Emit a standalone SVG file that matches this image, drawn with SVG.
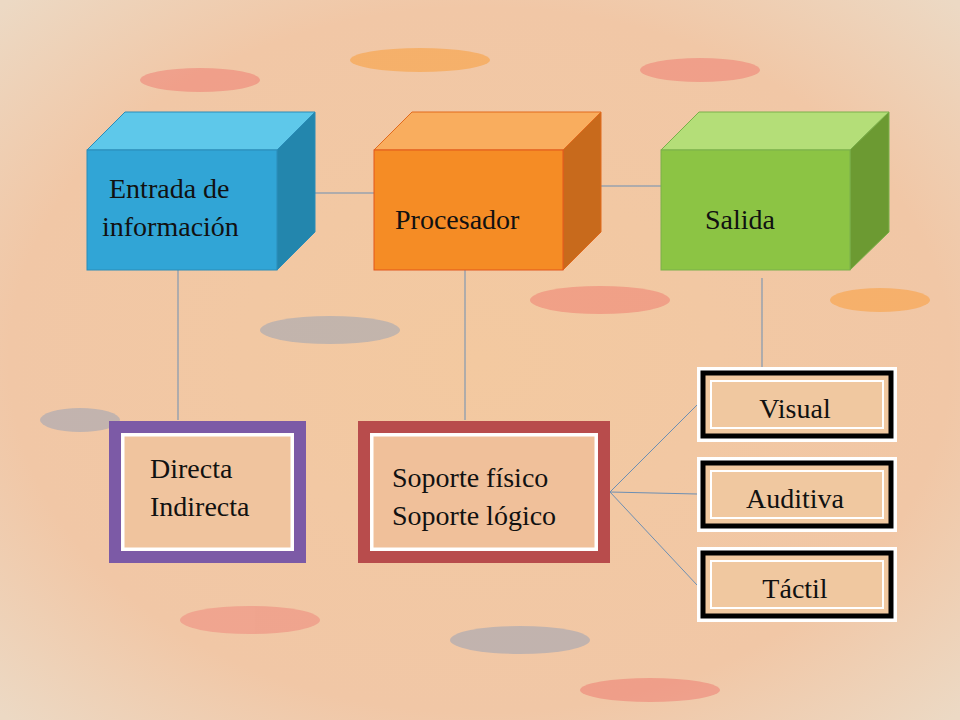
<svg xmlns="http://www.w3.org/2000/svg" width="960" height="720" viewBox="0 0 960 720">
<defs>
<radialGradient id="bg" cx="0.5" cy="0.5" r="0.7"><stop offset="0" stop-color="#f3c9a0"/><stop offset="0.7" stop-color="#f1c7a6"/><stop offset="1" stop-color="#ecd9c4"/></radialGradient>
<style>
.t{font-family:"Liberation Serif",serif;font-size:28px;fill:#111}
.c{stroke:#6d8fb3;stroke-width:1;fill:none}
</style>
</defs>
<rect width="960" height="720" fill="url(#bg)"/>
<g opacity="0.35">
<ellipse cx="200" cy="80" rx="60" ry="12" fill="#e55"/><ellipse cx="420" cy="60" rx="70" ry="12" fill="#f80"/>
<ellipse cx="700" cy="70" rx="60" ry="12" fill="#e55"/><ellipse cx="330" cy="330" rx="70" ry="14" fill="#6b8fc0"/>
<ellipse cx="600" cy="300" rx="70" ry="14" fill="#e55"/><ellipse cx="250" cy="620" rx="70" ry="14" fill="#e66"/>
<ellipse cx="520" cy="640" rx="70" ry="14" fill="#6b8fc0"/><ellipse cx="80" cy="420" rx="40" ry="12" fill="#6b8fc0"/>
<ellipse cx="880" cy="300" rx="50" ry="12" fill="#f80"/><ellipse cx="650" cy="690" rx="70" ry="12" fill="#e55"/>
</g>
<g id="connectors" class="c">
<line x1="315" y1="193" x2="374" y2="193"/><line x1="601" y1="186" x2="661" y2="186"/>
<line x1="178" y1="270" x2="178" y2="420"/><line x1="465" y1="270" x2="465" y2="420"/>
<line x1="762" y1="278" x2="762" y2="370"/>
<line x1="610" y1="492" x2="697" y2="405"/><line x1="610" y1="492" x2="697" y2="494"/><line x1="610" y1="492" x2="697" y2="585"/>
</g>
<g id="entrada">
<polygon points="87,150 125,112 315,112 277,150" fill="#5ec8ea" stroke="#2a8cb8"/>
<polygon points="277,150 315,112 315,232 277,270" fill="#2386ad" stroke="#2a8cb8"/>
<rect x="87" y="150" width="190" height="120" fill="#31a5d6" stroke="#2a8cb8"/>
<text class="t" x="109" y="198">Entrada de</text>
<text class="t" x="102" y="236">información</text>
</g>
<g id="procesador">
<polygon points="374,150 412,112 601,112 563,150" fill="#f9ad5e" stroke="#e26a1c"/>
<polygon points="563,150 601,112 601,232 563,270" fill="#c86a1c" stroke="#e26a1c"/>
<rect x="374" y="150" width="189" height="120" fill="#f58c25" stroke="#e2561c"/>
<text class="t" x="395" y="229">Procesador</text>
</g>
<g id="salida">
<polygon points="661,150 699,112 889,112 850,150" fill="#b4de78" stroke="#7ab04a"/>
<polygon points="850,150 889,112 889,232 850,270" fill="#6c9a32" stroke="#7ab04a"/>
<rect x="661" y="150" width="189" height="120" fill="#8cc444" stroke="#7ab04a"/>
<text class="t" x="705" y="229">Salida</text>
</g>
<g id="directa">
<rect x="109" y="421" width="197" height="142" fill="#fff" opacity="0.9"/>
<rect x="115" y="427" width="185" height="130" fill="none" stroke="#7c5aa6" stroke-width="12"/>
<rect x="123" y="435" width="169" height="114" fill="#f0c49e" stroke="#fff" stroke-width="3"/>
<text class="t" x="150" y="478">Directa</text><text class="t" x="150" y="516">Indirecta</text>
</g>
<g id="soporte">
<rect x="358" y="421" width="252" height="142" fill="#fff" opacity="0.9"/>
<rect x="364" y="427" width="240" height="130" fill="none" stroke="#b84c4c" stroke-width="12"/>
<rect x="372" y="435" width="224" height="114" fill="#f0c09a" stroke="#fff" stroke-width="3"/>
<text class="t" x="392" y="487">Soporte físico</text><text class="t" x="392" y="525">Soporte lógico</text>
</g>
<g id="visual">
<rect x="697" y="367" width="200" height="75" fill="#fff"/>
<rect x="703" y="373" width="188" height="63" fill="#f0c8a0" stroke="#000" stroke-width="5"/>
<rect x="711" y="381" width="172" height="47" fill="none" stroke="#fff" stroke-width="2"/>
<text class="t" x="795" y="418" text-anchor="middle">Visual</text>
</g>
<g id="auditiva">
<rect x="697" y="457" width="200" height="75" fill="#fff"/>
<rect x="703" y="463" width="188" height="63" fill="#f0c8a0" stroke="#000" stroke-width="5"/>
<rect x="711" y="471" width="172" height="47" fill="none" stroke="#fff" stroke-width="2"/>
<text class="t" x="795" y="508" text-anchor="middle">Auditiva</text>
</g>
<g id="tactil">
<rect x="697" y="547" width="200" height="75" fill="#fff"/>
<rect x="703" y="553" width="188" height="63" fill="#f0c8a0" stroke="#000" stroke-width="5"/>
<rect x="711" y="561" width="172" height="47" fill="none" stroke="#fff" stroke-width="2"/>
<text class="t" x="795" y="598" text-anchor="middle">Táctil</text>
</g>
</svg>
